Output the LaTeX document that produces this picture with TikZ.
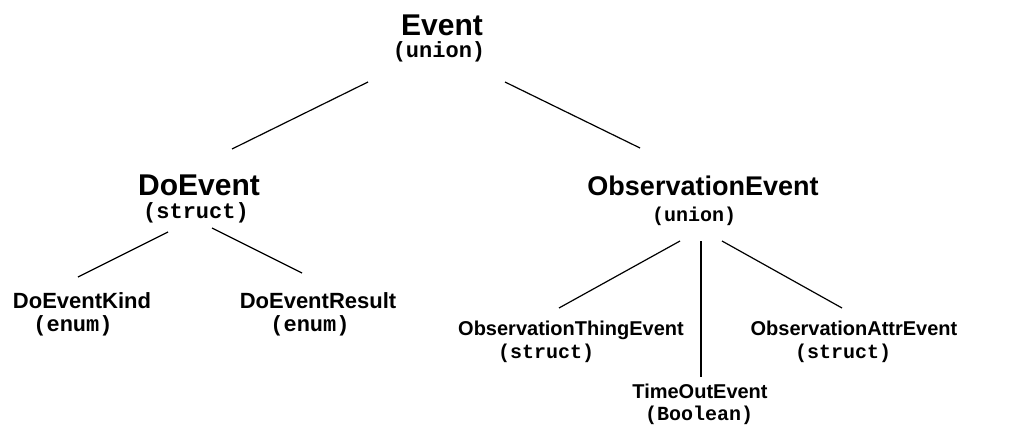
\documentclass[tikz,border=0pt]{standalone}
\usepackage{fontspec}
\setmainfont{Liberation Sans}
\setmonofont{Liberation Mono}
\usepackage{tikz}

\tikzset{
	bigname/.style={anchor=base,inner sep=0pt,font=\fontsize{#1}{#1}\selectfont\bfseries},
	bigname/.default=30,
	subname/.style={anchor=base,inner sep=0pt,font=\fontsize{#1}{#1}\selectfont\bfseries},
	subname/.default=22,
	typename/.style={anchor=base,inner sep=0pt,font=\fontsize{#1}{#1}\selectfont\ttfamily\bfseries},
	typename/.default=22,
	branch/.style={line width=1.2pt}
}

\begin{document}
\begin{tikzpicture}[x=1pt,y=-1pt]
		\useasboundingbox (0,0) rectangle (1024,425);
		% top level
		\node[bigname] (ev) at (442,36) {Event};
		\node[typename] (evt) at (439,58) {(union)};
		% second level
		\node[bigname] (do) at (199,195) {DoEvent};
		\node[typename] (dot) at (196,218) {(struct)};
		\node[bigname=27] (ob) at (703,195) {ObservationEvent};
		\node[typename=20] (obt) at (694,221) {(union)};
		% leaves
		\node[subname] (kd) at (82,308) {DoEventKind};
		\node[typename] (kdt) at (73,331) {(enum)};
		\node[subname] (rs) at (318,308) {DoEventResult};
		\node[typename] (rst) at (310,331) {(enum)};
		\node[subname=20] (th) at (571,335) {ObservationThingEvent};
		\node[typename=20] (tht) at (546,358) {(struct)};
		\node[subname=20] (at) at (854,335) {ObservationAttrEvent};
		\node[typename=20] (att) at (843,358) {(struct)};
		\node[subname=20] (to) at (700,398) {TimeOutEvent};
		\node[typename=20] (tot) at (699,420) {(Boolean)};
		% branches
		\draw[branch] ([shift={(-71,24)}]evt.base) -- ([shift={(33,-46)}]do.base);
		\draw[branch] ([shift={(66,24)}]evt.base) -- ([shift={(-63,-47)}]ob.base);
		\draw[branch] ([shift={(-28,14)}]dot.base) -- ([shift={(-4,-31)}]kd.base);
		\draw[branch] ([shift={(16,10)}]dot.base) -- ([shift={(-16,-35)}]rs.base);
		\draw[branch] ([shift={(-14,20)}]obt.base) -- ([shift={(-12,-27)}]th.base);
		\draw[branch] ([shift={(7,20)}]obt.base) -- ([shift={(1,-21)}]to.base);
		\draw[branch] ([shift={(28,20)}]obt.base) -- ([shift={(-12,-27)}]at.base);
	\end{tikzpicture}
\end{document}
